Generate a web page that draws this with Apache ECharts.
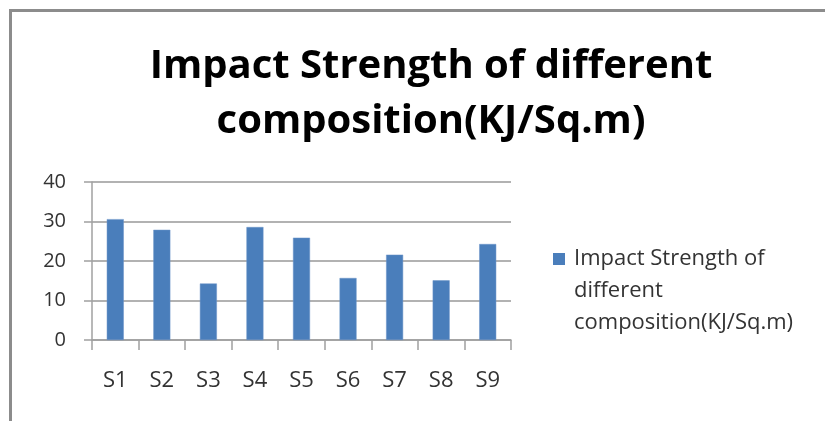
<!DOCTYPE html>
<html>
<head>
<meta charset="utf-8">
<script src="https://cdn.jsdelivr.net/npm/echarts@6/dist/echarts.min.js"></script>
<style>
html,body{margin:0;padding:0;background:#fff;}
#c{width:825px;height:421px;}
</style>
</head>
<body>
<div id="c"></div>
<script>
var categories = ['S1','S2','S3','S4','S5','S6','S7','S8','S9'];
var impactValues = [30.6, 27.9, 14.3, 28.6, 25.9, 15.7, 21.6, 15.1, 24.3];
var yTicks = [0, 10, 20, 30, 40];
var seriesName = 'Impact Strength of different composition(KJ/Sq.m)';
var titleText = 'Impact Strength of different\ncomposition(KJ/Sq.m)';
var legendLines = ['Impact Strength of', 'different', 'composition(KJ/Sq.m)'];

var FONT = 'Open Sans';
var chart = echarts.init(document.getElementById('c'), null, {renderer:'canvas'});
chart.setOption({
  backgroundColor: '#ffffff',
  animation: false,
  title: {
    text: titleText,
    left: 426,
    top: 34,
    textAlign: 'center',
    textStyle: {fontFamily: FONT, fontWeight: 'bold', fontSize: 40, lineHeight: 55, color: '#000'}
  },
  legend: {
    data: [seriesName],
    orient: 'vertical',
    left: 553,
    top: 243,
    padding: 0,
    itemWidth: 12,
    itemHeight: 76,
    itemGap: 0,
    icon: 'path://M0,0h12v12h-12z M0,76L0.001,76',
    itemStyle: {borderWidth: 0, color: '#4a7ebb'},
    formatter: function(){ return legendLines.join('\n'); },
    textStyle: {fontFamily: FONT, fontSize: 22, lineHeight: 32, color: '#333', padding: [0, 0, 0, 4]}
  },
  grid: {left: 92, right: 314, top: 182, bottom: 81, containLabel: false},
  xAxis: {
    type: 'category',
    data: categories,
    boundaryGap: true,
    axisLine: {lineStyle: {color: '#a0a0a0', width: 1.5}},
    axisTick: {show: true, length: 10, inside: false, alignWithLabel: false, lineStyle: {color: '#a0a0a0', width: 1.5}},
    axisLabel: {margin: 30, fontFamily: FONT, fontSize: 22, color: '#333'}
  },
  yAxis: {
    type: 'value',
    min: yTicks[0],
    max: yTicks[yTicks.length-1],
    interval: 10,
    axisLine: {show: true, lineStyle: {color: '#a0a0a0', width: 1.5}},
    axisTick: {show: true, length: 8, lineStyle: {color: '#a0a0a0', width: 1.5}},
    splitLine: {show: true, lineStyle: {color: '#999', width: 1.5}},
    axisLabel: {margin: 26, fontFamily: FONT, fontSize: 20, color: '#333'}
  },
  series: [{
    name: seriesName,
    type: 'bar',
    data: impactValues,
    barWidth: 17,
    itemStyle: {color: '#4a7ebb', borderColor: '#6d95c8', borderWidth: 0.5}
  }],
  graphic: [{
    type: 'polyline',
    shape: {points: [[10.5, 421], [10.5, 10.5], [825, 10.5]]},
    style: {stroke: '#8c8c8c', lineWidth: 3, fill: null},
    silent: true
  }]
});
</script>
</body>
</html>
